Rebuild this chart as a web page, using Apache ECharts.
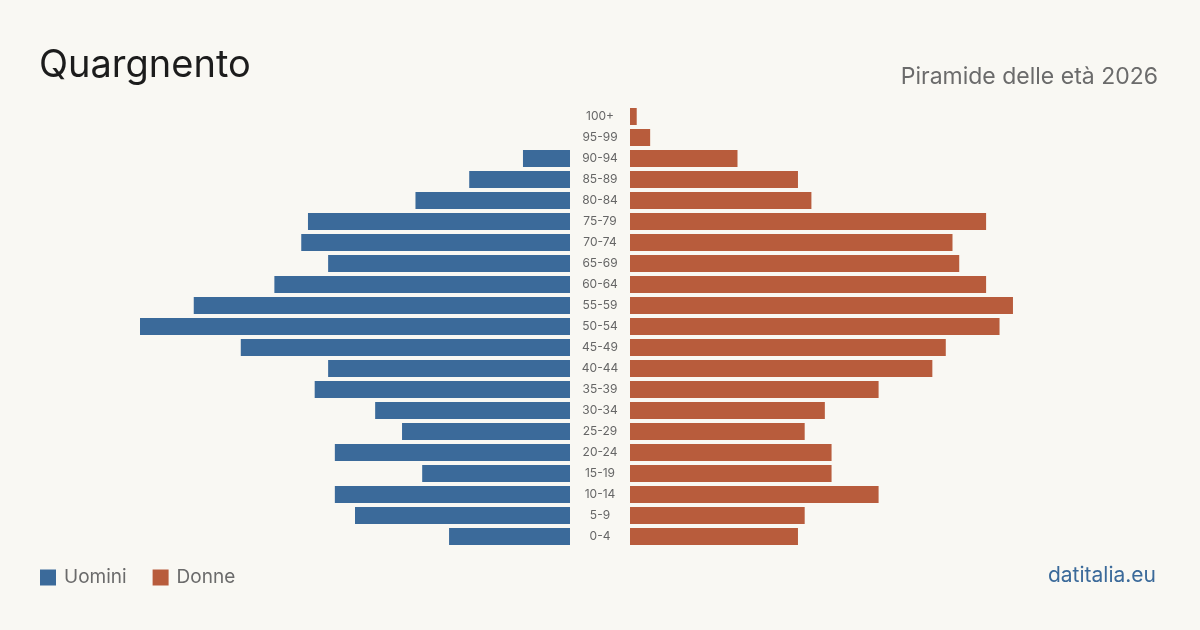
<!DOCTYPE html>
<html>
<head>
<meta charset="utf-8">
<script src="https://cdn.jsdelivr.net/npm/echarts@6/dist/echarts.min.js"></script>
<style>
  html, body { margin: 0; padding: 0; background: #f9f8f3; }
  #chart { width: 1200px; height: 630px; }
</style>
</head>
<body>
<div id="chart"></div>
<script>
// classi di età, dall'alto verso il basso
const ageGroups = ["100+", "95-99", "90-94", "85-89", "80-84", "75-79", "70-74", "65-69", "60-64", "55-59",
  "50-54", "45-49", "40-44", "35-39", "30-34", "25-29", "20-24", "15-19", "10-14", "5-9", "0-4"];
const uomini = [0, 0, 7, 15, 23, 39, 40, 36, 44, 56, 64, 49, 36, 38, 29, 25, 35, 22, 35, 32, 18];
const donne = [1, 3, 16, 25, 27, 53, 48, 49, 53, 57, 55, 47, 45, 37, 29, 26, 30, 30, 37, 26, 25];

const maxVal = Math.max(...uomini, ...donne);
const font = "Inter";

const chart = echarts.init(document.getElementById("chart"));

const option = {
  backgroundColor: "#f9f8f3",
  animation: false,
  title: [
    {
      text: "Quargnento",
      left: 39, top: 47, padding: 0,
      textStyle: { fontFamily: font, fontSize: 38, fontWeight: "normal", color: "#1c1c1c" }
    },
    {
      text: "Piramide delle età 2026",
      right: 42, top: 66, padding: 0,
      textStyle: { fontFamily: font, fontSize: 23, fontWeight: "normal", color: "#6b6b6b" }
    },
    {
      text: "datitalia.eu",
      right: 44, top: 565, padding: 0,
      textStyle: { fontFamily: font, fontSize: 21, fontWeight: "normal", color: "#3b6a9a" }
    }
  ],
  legend: {
    left: 40, top: 568, padding: 0,
    icon: "rect",
    itemWidth: 16, itemHeight: 16,
    itemGap: 26,
    textStyle: { fontFamily: font, fontSize: 19, color: "#6b6b6b", padding: [0, 0, 0, 3] },
    data: ["Uomini", "Donne"]
  },
  grid: [
    { left: 140, width: 430, top: 106, height: 441 },
    { left: 630, width: 430, top: 106, height: 441 }
  ],
  xAxis: [
    { gridIndex: 0, type: "value", min: 0, max: maxVal, inverse: true, show: false },
    { gridIndex: 1, type: "value", min: 0, max: maxVal, show: false }
  ],
  yAxis: [
    {
      gridIndex: 0, type: "category", data: ageGroups, inverse: true, position: "right",
      axisLine: { show: false }, axisTick: { show: false },
      axisLabel: { align: "center", margin: 30, fontFamily: font, fontSize: 12, color: "#666", padding: [2, 0, 0, 0] }
    },
    {
      gridIndex: 1, type: "category", data: ageGroups, inverse: true,
      axisLine: { show: false }, axisTick: { show: false }, axisLabel: { show: false }
    }
  ],
  series: [
    {
      name: "Uomini", type: "bar", xAxisIndex: 0, yAxisIndex: 0,
      data: uomini, barWidth: 17, itemStyle: { color: "#3b6a9a" }
    },
    {
      name: "Donne", type: "bar", xAxisIndex: 1, yAxisIndex: 1,
      data: donne, barWidth: 17, itemStyle: { color: "#b85c3c" }
    }
  ]
};

chart.setOption(option);
</script>
</body>
</html>
